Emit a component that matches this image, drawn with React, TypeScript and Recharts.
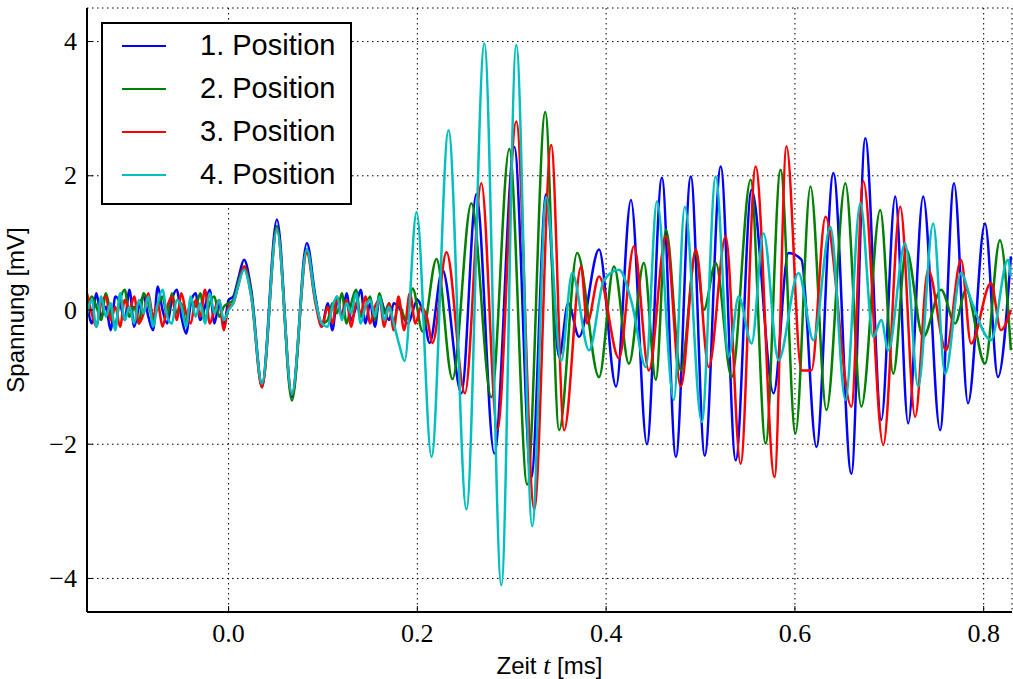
import React from 'react';
import { LineChart, Line, XAxis, YAxis, CartesianGrid, Legend, Label } from 'recharts';

const seriesNames = ['1. Position', '2. Position', '3. Position', '4. Position'];
const seriesColors = ['#0000ff', '#008000', '#ff0000', '#00bfbf'];

const xTicks = [0, 0.2, 0.4, 0.6, 0.8];
const yTicks = [-4, -2, 0, 2, 4];

// Rauschen vor dem Trigger (ms)
const preT = [-0.15, -0.145, -0.14, -0.135, -0.13, -0.125, -0.12, -0.115, -0.11, -0.105, -0.1, -0.095, -0.09, -0.085, -0.08, -0.075, -0.07, -0.065, -0.06, -0.055, -0.05, -0.045, -0.04, -0.035, -0.03, -0.025, -0.02, -0.015, -0.01, -0.005, 0];
const pos1Pre = [0.15, -0.2, 0.25, -0.1, 0.05, -0.3, 0.2, 0.1, -0.15, 0.3, -0.25, 0.05, 0.2, -0.1, -0.3, 0.35, 0.0, -0.2, 0.15, 0.3, -0.1, -0.35, 0.1, 0.25, -0.15, 0.05, 0.3, -0.2, 0.1, -0.25, 0.15];
const pos2Pre = [-0.1, 0.2, 0.05, -0.15, 0.25, -0.05, -0.2, 0.15, 0.3, -0.1, 0.05, -0.2, 0.25, 0.1, -0.15, 0.05, 0.2, -0.1, 0.25, -0.05, 0.1, -0.2, 0.15, 0.05, 0.25, -0.15, 0.1, 0.2, -0.1, 0.05, 0.1];
const pos3Pre = [0.25, -0.05, -0.25, 0.1, 0.2, -0.15, 0.05, -0.25, 0.15, 0.0, 0.2, -0.2, -0.05, 0.25, -0.1, 0.1, -0.25, 0.05, 0.2, -0.15, 0.25, -0.05, -0.2, 0.15, -0.1, 0.3, -0.2, 0.0, 0.15, -0.3, 0.05];
const pos4Pre = [-0.05, 0.15, -0.25, 0.2, -0.1, 0.1, -0.3, 0.25, -0.15, 0.05, -0.2, 0.15, -0.05, 0.2, -0.25, 0.1, 0.3, -0.1, -0.2, 0.15, 0.05, -0.25, 0.2, -0.1, 0.1, -0.2, 0.25, -0.05, 0.15, -0.15, 0.0];

// erstes Wellenpaket
const packetT = [0.005, 0.01, 0.0164, 0.024, 0.0354, 0.0512, 0.0671, 0.0829, 0.092, 0.0988];
const pos1Packet = [0.2, 0.45, 0.75, 0.3, -1.1, 1.35, -1.3, 1.0, 0.2, -0.25];
const pos2Packet = [0.15, 0.4, 0.65, 0.25, -1.15, 1.25, -1.35, 0.9, 0.15, -0.2];
const pos3Packet = [0.1, 0.35, 0.65, 0.2, -1.15, 1.2, -1.25, 0.85, 0.1, -0.25];
const pos4Packet = [0.1, 0.35, 0.6, 0.2, -1.1, 1.2, -1.25, 0.9, 0.15, -0.2];

// Rauschen zwischen den Paketen
const midT = [0.105, 0.11, 0.115, 0.12, 0.125, 0.13, 0.135, 0.14, 0.145, 0.15, 0.155, 0.16, 0.165, 0.17, 0.175];
const pos1Mid = [0.1, -0.3, 0.15, -0.1, 0.25, -0.15, 0.05, 0.3, -0.2, 0.1, -0.25, 0.2, 0.0, -0.15, 0.1];
const pos2Mid = [-0.15, 0.1, -0.05, 0.25, -0.2, 0.1, 0.3, -0.1, 0.05, 0.2, -0.15, 0.25, -0.05, 0.1, -0.2];
const pos3Mid = [0.05, -0.2, 0.2, -0.1, 0.15, -0.25, 0.1, -0.05, 0.2, -0.2, 0.05, 0.15, -0.25, 0.1, -0.3];
const pos4Mid = [-0.25, 0.05, 0.2, -0.15, 0.1, -0.05, 0.25, -0.2, 0.05, 0.15, -0.1, 0.2, -0.15, 0.05, -0.2];

// Hauptsignal [t, U]
const pos1Main: [number, number][] = [
  [0.18, 0.05], [0.19, -0.2], [0.2, 0.15], [0.207, -0.1], [0.213, -0.49], [0.2266, 0.6], [0.2467, -1.24],
  [0.2625, 1.73], [0.2815, -2.14], [0.3027, 2.43], [0.3206, -2.5], [0.3365, 1.73], [0.3502, -0.7],
  [0.3598, 0.1], [0.3714, -0.4], [0.3925, 0.9], [0.4105, -1.14], [0.4263, 1.64], [0.4432, -2.0],
  [0.4591, 1.97], [0.4739, -2.19], [0.4897, 1.99], [0.5045, -2.17], [0.5214, 2.14], [0.5373, -2.24],
  [0.5541, 1.79], [0.5774, -1.24], [0.5932, 0.85], [0.6069, 0.75], [0.6228, -2.04], [0.6408, 2.04],
  [0.6598, -2.44], [0.6746, 2.56], [0.6915, -1.64], [0.7063, 1.69], [0.72, -1.69], [0.7359, 1.69],
  [0.7538, -1.79], [0.7686, 1.89], [0.7834, -1.39], [0.8014, 1.29], [0.8151, -1.0], [0.8288, 0.8],
];
const pos2Main: [number, number][] = [
  [0.18, 0.1], [0.188, -0.15], [0.195, 0.32], [0.2055, -0.32], [0.2203, 0.76], [0.2372, -1.03],
  [0.2572, 1.59], [0.2784, -1.3], [0.2974, 2.4], [0.3164, -2.6], [0.3355, 2.95], [0.3502, -1.79],
  [0.3693, 0.85], [0.3925, -1.0], [0.4083, 0.65], [0.4242, -0.8], [0.44, 0.7], [0.4527, -1.04],
  [0.4633, 1.2], [0.4791, -0.9], [0.495, 0.85], [0.5034, 0.0], [0.5161, 0.7], [0.533, -1.0],
  [0.5531, 1.94], [0.569, -1.99], [0.5848, 2.09], [0.6006, -1.84], [0.6165, 1.84], [0.6334, -1.49],
  [0.6535, 1.89], [0.6704, -1.44], [0.6904, 1.49], [0.7042, -0.95], [0.7179, 0.9], [0.7359, -0.4],
  [0.7549, 0.3], [0.7697, -0.2], [0.7813, 0.3], [0.8014, -0.8], [0.8172, 1.04], [0.8288, -0.6],
];
const pos3Main: [number, number][] = [
  [0.18, 0.2], [0.186, -0.3], [0.192, 0.25], [0.198, -0.2], [0.204, 0.05], [0.21, -0.1], [0.2161, -0.49],
  [0.2309, 0.86], [0.2504, -1.24], [0.2678, 1.89], [0.2847, -1.78], [0.3048, 2.81], [0.3238, -2.97],
  [0.3418, 2.46], [0.3555, -1.79], [0.3735, 0.65], [0.3798, -0.2], [0.3925, 0.5], [0.4136, -0.72],
  [0.4295, 0.95], [0.4453, -0.9], [0.4633, 1.1], [0.4791, -1.14], [0.495, 0.9], [0.5087, -0.85],
  [0.5267, 1.1], [0.5425, -2.29], [0.5584, 2.14], [0.5784, -2.49], [0.5911, 2.44], [0.6069, -0.9],
  [0.6175, -0.9], [0.6324, 1.39], [0.6598, -1.44], [0.6725, 1.92], [0.6936, -2.01], [0.7116, 1.54],
  [0.7274, -1.59], [0.7411, 0.6], [0.7602, -0.6], [0.776, 0.75], [0.7866, -0.5], [0.8077, 0.4],
  [0.8183, -0.3], [0.8288, 0.0],
];
const pos4Main: [number, number][] = [
  [0.1812, -0.54], [0.1865, -0.76], [0.1992, 1.46], [0.215, -2.19], [0.233, 2.68], [0.252, -2.97],
  [0.271, 3.97], [0.289, -4.1], [0.3048, 3.95], [0.3217, -3.22], [0.3365, 1.68], [0.3523, -0.76],
  [0.364, 0.55], [0.3819, -0.6], [0.3978, 0.45], [0.4136, 0.6], [0.4273, 0.1], [0.4421, -0.85],
  [0.4538, 1.62], [0.4717, -1.34], [0.4833, 1.54], [0.5013, -1.67], [0.5161, 1.99], [0.5298, -0.7],
  [0.5404, 0.2], [0.5541, -0.5], [0.5668, 1.14], [0.5826, -0.75], [0.6038, 0.55], [0.6196, -0.45],
  [0.6376, 1.24], [0.6535, -1.34], [0.6693, 1.59], [0.683, -0.4], [0.6915, -0.15], [0.6989, -0.6],
  [0.7168, 1.0], [0.7306, -1.14], [0.7465, 1.29], [0.7591, -0.95], [0.776, 0.55], [0.7866, 0.15],
  [0.8077, -0.45], [0.8257, 0.75], [0.8288, 0.5],
];

const toPoints = (ts: number[], vs: number[]) => ts.map((t, i) => ({ t, v: vs[i] }));
const pairs = (p: [number, number][]) => p.map(([t, v]) => ({ t, v }));

const seriesData = [
  [...toPoints(preT, pos1Pre), ...toPoints(packetT, pos1Packet), ...toPoints(midT, pos1Mid), ...pairs(pos1Main)],
  [...toPoints(preT, pos2Pre), ...toPoints(packetT, pos2Packet), ...toPoints(midT, pos2Mid), ...pairs(pos2Main)],
  [...toPoints(preT, pos3Pre), ...toPoints(packetT, pos3Packet), ...toPoints(midT, pos3Mid), ...pairs(pos3Main)],
  [...toPoints(preT, pos4Pre), ...toPoints(packetT, pos4Packet), ...toPoints(midT, pos4Mid), ...pairs(pos4Main)],
];

const serif = '"Liberation Serif", serif';
const sans = '"Liberation Sans", Arial, sans-serif';

const BottomTick = (props: any) => {
  const { x, y, payload } = props;
  return (
    <g>
      <line x1={x} y1={y} x2={x} y2={y - 6} stroke="#000" />
      <text x={x} y={y + 30} textAnchor="middle" fontFamily={serif} fontSize={26} fill="#000">
        {Number(payload.value).toFixed(1)}
      </text>
    </g>
  );
};

const TopTick = (props: any) => {
  const { x, y } = props;
  return <line x1={x} y1={y} x2={x} y2={y + 6} stroke="#000" />;
};

const LeftTick = (props: any) => {
  const { x, y, payload } = props;
  const v = Number(payload.value);
  return (
    <g>
      <line x1={x} y1={y} x2={x + 6} y2={y} stroke="#000" />
      <text x={x - 10} y={y} dy="0.33em" textAnchor="end" fontFamily={serif} fontSize={26} fill="#000">
        {v < 0 ? `\u2212${Math.abs(v)}` : `${v}`}
      </text>
    </g>
  );
};

const RightTick = (props: any) => {
  const { x, y } = props;
  return <line x1={x - 6} y1={y} x2={x} y2={y} stroke="#000" />;
};

const renderLegend = () => (
  <div
    style={{
      border: '2px solid #000',
      background: '#fff',
      width: 247,
      paddingBottom: 7,
      boxSizing: 'content-box',
    }}
  >
    {seriesNames.map((name, i) => (
      <div key={name} style={{ height: 43, display: 'flex', alignItems: 'center' }}>
        <div style={{ width: 44, height: 2, background: seriesColors[i], marginLeft: 19 }} />
        <span style={{ marginLeft: 34, fontFamily: sans, fontSize: 29, color: '#000', lineHeight: '43px' }}>
          {name}
        </span>
      </div>
    ))}
  </div>
);

export default function App() {
  return (
    <div style={{ position: 'absolute', left: 0, top: 0, background: '#fff' }}>
      <LineChart width={1013} height={679} margin={{ top: 8, right: 1, left: 0, bottom: 0 }}>
        <CartesianGrid stroke="#000" strokeDasharray="1.5 3.5" strokeWidth={1} />
        <XAxis
          dataKey="t"
          type="number"
          domain={[-0.15, 0.83]}
          ticks={xTicks}
          allowDataOverflow
          height={67}
          tickLine={false}
          tickSize={0}
          tickMargin={0}
          axisLine={{ stroke: '#000', strokeWidth: 2 }}
          tick={<BottomTick />}
        >
          <Label
            content={(p: any) => {
              const vb = p.viewBox;
              return (
                <text x={vb.x + vb.width / 2} y={vb.y + 62} textAnchor="middle" fontFamily={sans} fontSize={24} fill="#000">
                  Zeit <tspan fontFamily={serif} fontStyle="italic" fontSize={26}>t</tspan> [ms]
                </text>
              );
            }}
          />
        </XAxis>
        <XAxis
          xAxisId="top"
          orientation="top"
          dataKey="t"
          type="number"
          domain={[-0.15, 0.83]}
          ticks={xTicks}
          allowDataOverflow
          height={0}
          tickLine={false}
          tickSize={0}
          tickMargin={0}
          axisLine={{ stroke: '#000', strokeWidth: 2 }}
          tick={<TopTick />}
        />
        <YAxis
          type="number"
          domain={[-4.5, 4.5]}
          ticks={yTicks}
          allowDataOverflow
          width={87}
          tickLine={false}
          tickSize={0}
          tickMargin={0}
          axisLine={{ stroke: '#000', strokeWidth: 2 }}
          tick={<LeftTick />}
        >
          <Label
            content={(p: any) => {
              const vb = p.viewBox;
              const cx = vb.x + 24;
              const cy = vb.y + vb.height / 2;
              return (
                <text x={cx} y={cy} transform={`rotate(-90 ${cx} ${cy})`} textAnchor="middle" fontFamily={sans} fontSize={24} fill="#000">
                  Spannung [mV]
                </text>
              );
            }}
          />
        </YAxis>
        <YAxis
          yAxisId="right"
          orientation="right"
          type="number"
          domain={[-4.5, 4.5]}
          ticks={yTicks}
          allowDataOverflow
          width={0}
          tickLine={false}
          tickSize={0}
          tickMargin={0}
          axisLine={{ stroke: '#000', strokeWidth: 2 }}
          tick={<RightTick />}
        />
        {seriesData.map((d, i) => (
          <Line
            key={seriesNames[i]}
            data={d}
            dataKey="v"
            name={seriesNames[i]}
            type="monotone"
            stroke={seriesColors[i]}
            strokeWidth={2.5}
            dot={false}
            isAnimationActive={false}
          />
        ))}
        <Legend
          layout="vertical"
          align="center"
          verticalAlign="middle"
          content={renderLegend}
          wrapperStyle={{ position: 'absolute', left: 101, top: 22, width: 'auto', height: 'auto' }}
        />
      </LineChart>
    </div>
  );
}
